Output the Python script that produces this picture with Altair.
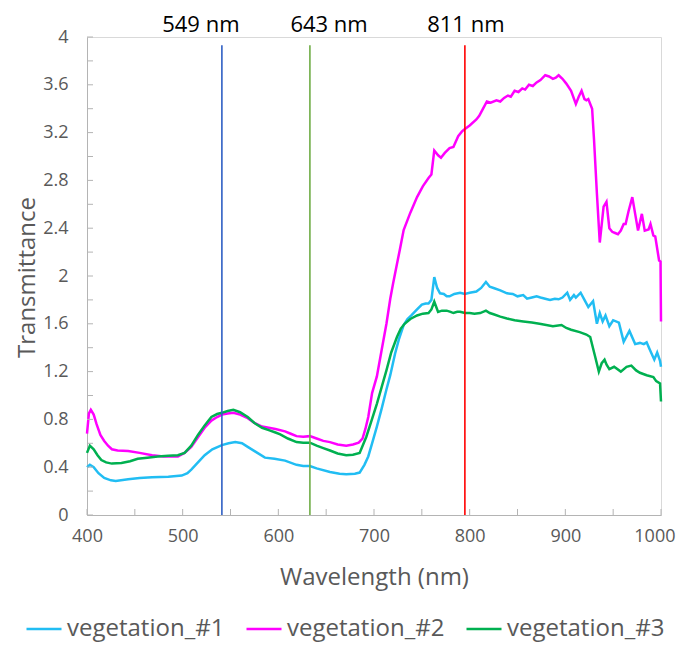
import altair as alt
import pandas as pd

# ---- data ----
wl1 = [400,403,407,412,418,425,430,443,455,468, 485,499,505,509,516,523,531,541,548,555,
       562,568,576,586,596,607,619,626,633,640, 654,664,671,680,685,690,694,698,703,708,
       713,717,722,726,731,735,739,745,750,754, 757,760,763,766,769,773,776,779,784,790,
       795,800,807,812,817,821,825,832,839,845, 850,856,860,865,870,874,879,884,889,893,
       897,902,905,909,911,916,920,924,929,933, 936,939,942,946,950,956,961,967,973,978,
       982,985,988,993,996,999,1000]
veg1 = [0.40,0.42,0.40,0.35,0.31,0.29,0.285,0.30,0.31,0.315, 0.32,0.33,0.35,0.38,0.44,0.50,0.55,0.585,0.60,0.61,
        0.60,0.57,0.53,0.48,0.47,0.455,0.42,0.41,0.41,0.39, 0.36,0.345,0.34,0.345,0.355,0.42,0.49,0.60,0.74,0.89,
        1.05,1.17,1.35,1.47,1.59,1.64,1.67,1.72,1.76,1.77, 1.77,1.80,1.99,1.90,1.855,1.85,1.83,1.83,1.85,1.86,
        1.85,1.86,1.87,1.90,1.95,1.91,1.90,1.88,1.855,1.85, 1.83,1.84,1.81,1.82,1.83,1.82,1.81,1.80,1.81,1.805,
        1.82,1.86,1.80,1.84,1.82,1.86,1.80,1.74,1.79,1.60, 1.69,1.62,1.67,1.58,1.63,1.61,1.45,1.54,1.43,1.44,
        1.43,1.445,1.39,1.30,1.36,1.29,1.24]

wl2 = [400,402,404,407,410,414,418,422,426,432, 443,455,468,480,495,502,509,516,523,530,
       536,541,547,553,560,568,575,583,590,597, 607,613,619,626,633,640,647,654,662,671,
       678,684,688,691,694,698,703,708,713,717, 720,724,727,731,738,745,751,757,760,763,
       767,770,774,779,783,788,792,795,800,807, 810,814,818,822,828,832,836,840,843,847,
       851,855,858,862,866,870,874,879,883,887, 890,893,897,901,906,911,914,917,920,922,
       924,928,930,933,936,940,943,946,949,952, 955,958,961,963,966,970,973,976,980,983,
       987,989,992,994,998,999.5,1000]
veg2 = [0.68,0.85,0.88,0.84,0.76,0.67,0.62,0.58,0.55,0.54, 0.535,0.52,0.50,0.49,0.49,0.52,0.57,0.65,0.73,0.79,
        0.82,0.84,0.85,0.855,0.84,0.81,0.77,0.74,0.73,0.72, 0.70,0.68,0.66,0.655,0.66,0.64,0.62,0.61,0.59,0.58,
        0.59,0.605,0.64,0.72,0.82,1.02,1.16,1.38,1.60,1.81, 1.94,2.10,2.22,2.385,2.53,2.66,2.75,2.82,2.85,3.05,
        3.01,2.99,3.03,3.07,3.08,3.17,3.21,3.23,3.26,3.31, 3.34,3.40,3.46,3.45,3.47,3.46,3.49,3.51,3.50,3.55,
        3.54,3.57,3.56,3.60,3.59,3.62,3.64,3.68,3.67,3.65, 3.66,3.68,3.65,3.61,3.55,3.44,3.50,3.55,3.48,3.47,
        3.48,3.40,3.14,2.69,2.28,2.58,2.62,2.40,2.37,2.36, 2.35,2.38,2.435,2.435,2.54,2.66,2.52,2.38,2.52,2.38,
        2.39,2.435,2.34,2.33,2.13,2.12,1.62]

wl3 = [400,403,407,411,415,420,426,436,445,453, 463,474,485,495,502,509,516,523,530,536,
       541,547,553,560,568,575,583,590,597,602, 610,619,626,633,640,647,654,662,671,678,
       685,692,697,703,708,713,718,724,728,732, 738,745,751,757,760,763,767,771,776,780,
       783,787,790,795,800,805,811,817,821,825, 832,839,847,856,865,873,887,896,901,906,
       915,922,926,931,935,938,941,943,946,951, 958,964,969,974,978,985,992,995,999,1000]
veg3 = [0.52,0.58,0.55,0.50,0.46,0.44,0.43,0.435,0.45,0.47, 0.48,0.49,0.495,0.50,0.52,0.58,0.67,0.75,0.82,0.845,
        0.855,0.87,0.88,0.86,0.82,0.77,0.73,0.71,0.69,0.675, 0.64,0.61,0.605,0.605,0.58,0.56,0.54,0.515,0.50,0.505,
        0.52,0.655,0.78,0.93,1.07,1.21,1.36,1.49,1.56,1.60, 1.64,1.67,1.685,1.69,1.72,1.785,1.70,1.71,1.71,1.70,
        1.69,1.70,1.70,1.69,1.69,1.685,1.69,1.71,1.69,1.68, 1.66,1.645,1.63,1.62,1.61,1.60,1.58,1.59,1.565,1.55,
        1.53,1.51,1.49,1.33,1.20,1.27,1.30,1.26,1.22,1.24, 1.20,1.24,1.25,1.21,1.19,1.17,1.155,1.12,1.10,0.95]

series_names = ["vegetation_#1", "vegetation_#2", "vegetation_#3"]
series_colors = ["#21BDF3", "#FF00FF", "#00B050"]

marker_wl = [541, 633, 795]
marker_bottom = [0, 0, 0]
marker_top = [3.93, 3.93, 3.93]
marker_colors = ["#2F5FC4", "#70AD47", "#FF0000"]
label_text = ["549 nm", "643 nm", "811 nm"]
label_wl = [519, 653, 796]

x_ticks = list(range(400, 1001, 50))
x_labels = list(range(400, 1001, 100))
y_ticks = [round(i * 0.2, 1) for i in range(21)]
y_labels = [round(i * 0.4, 1) for i in range(11)]

# ---- tables ----
frames = []
for name, wl, vals in zip(series_names, [wl1, wl2, wl3], [veg1, veg2, veg3]):
    frames.append(pd.DataFrame({"wl": wl, "t": vals, "series": name}))
curves = pd.concat(frames, ignore_index=True)
markers = pd.DataFrame({"wl": marker_wl, "bottom": marker_bottom, "top": marker_top, "c": marker_colors})
labels = pd.DataFrame({"wl": label_wl, "txt": label_text})
xt = pd.DataFrame({"v": x_ticks})
yt = pd.DataFrame({"v": y_ticks})

FONT = "Open Sans"
GREY = "#595959"
AXC = "#b4b4b4"

xscale = alt.Scale(domain=[400, 1000], nice=False)
yscale = alt.Scale(domain=[0, 4], nice=False)

lines = alt.Chart(curves).mark_line(strokeWidth=2.5).encode(
    x=alt.X("wl:Q", scale=xscale,
            axis=alt.Axis(title="Wavelength (nm)", values=x_labels, format="d",
                          ticks=False, tickSize=0, labelPadding=12, labelFontSize=18,
                          labelFlush=False, labelOverlap=False,
                          labelAlign={"condition": {"test": "datum.value == 1000", "value": "right"},
                                      "value": "center"},
                          labelOffset={"condition": {"test": "datum.value == 1000", "value": 14},
                                       "value": 0},
                          titleFontSize=24, titleFontWeight="normal", titleY=62,
                          titleBaseline="middle", domainColor=AXC, grid=False)),
    y=alt.Y("t:Q", scale=yscale,
            axis=alt.Axis(title="Transmittance", values=y_labels, format="~g",
                          ticks=False, tickSize=0, labelPadding=19, labelFontSize=18,
                          labelFlush=False, labelOverlap=False,
                          titleFontSize=24, titleFontWeight="normal", titleX=-53, titleY=240,
                          titleAngle=270, titleBaseline="alphabetic", titleAlign="center",
                          domainColor=AXC, grid=False)),
    color=alt.Color("series:N", scale=alt.Scale(domain=series_names, range=series_colors),
                    legend=alt.Legend(title=None, orient="none", legendX=-62, legendY=573,
                                      direction="horizontal", symbolType="stroke",
                                      symbolSize=1225, symbolStrokeWidth=2.5,
                                      labelFontSize=24, labelColor=GREY, labelLimit=400,
                                      labelOffset=4, columnPadding=16, labelFont=FONT)),
    order=alt.Order("wl:Q"),
)

yticks = alt.Chart(yt).mark_rule(color=AXC, strokeWidth=1).encode(
    y=alt.Y("v:Q", scale=yscale), x=alt.value(0), x2=alt.value(6))
xticks = alt.Chart(xt).mark_rule(color=AXC, strokeWidth=1).encode(
    x=alt.X("v:Q", scale=xscale), y=alt.value(478), y2=alt.value(472))

rules = alt.Chart(markers).mark_rule(strokeWidth=1.6).encode(
    x=alt.X("wl:Q", scale=xscale), y=alt.Y("bottom:Q", scale=yscale), y2=alt.Y2("top:Q"),
    color=alt.Color("c:N", scale=None))

texts = alt.Chart(labels).mark_text(fontSize=22, font=FONT, color="#000000",
                                    baseline="alphabetic", align="center").encode(
    x=alt.X("wl:Q", scale=xscale), y=alt.value(-5), text="txt:N")

chart = alt.layer(lines, yticks, xticks, rules, texts).properties(
    width=574, height=478,
    padding={"left": 79, "top": 29, "right": 16, "bottom": 128},
    autosize=alt.AutoSizeParams(type="none"),
).configure_view(stroke="#d9d9d9", strokeWidth=1).configure_axis(
    labelFont=FONT, titleFont=FONT, labelColor=GREY, titleColor=GREY
).configure_text(font=FONT)

chart.save("out.html", embed_options={"renderer": "svg", "actions": False})
